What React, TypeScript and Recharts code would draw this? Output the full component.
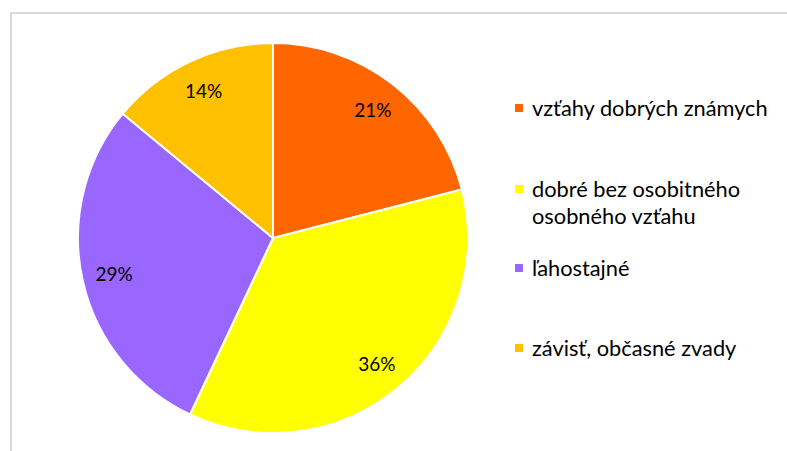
import React from "react";
import { PieChart, Pie, Cell } from "recharts";

const categories = [
  "vzťahy dobrých známych",
  "dobré bez osobitného osobného vzťahu",
  "ľahostajné",
  "závisť, občasné zvady",
];
const values = [21, 36, 29, 14];
const colors = ["#FF6600", "#FFFF00", "#9966FF", "#FFC000"];
const legendLines = [
  ["vzťahy dobrých známych"],
  ["dobré bez osobitného", "osobného vzťahu"],
  ["ľahostajné"],
  ["závisť, občasné zvady"],
];

const data = categories.map((name, i) => ({ name, value: values[i] }));

const FONT = "Lato, 'Open Sans', sans-serif";
const RAD = Math.PI / 180;

const renderLabel = (props: any) => {
  const { cx, cy, midAngle, outerRadius, value } = props;
  const r = outerRadius * 0.835;
  const x = cx + r * Math.cos(-midAngle * RAD);
  const y = cy + r * Math.sin(-midAngle * RAD);
  return (
    <text
      x={x}
      y={y}
      textAnchor="middle"
      dominantBaseline="central"
      fill="#000"
      fontSize={19}
      fontFamily={FONT}
    >
      {value}%
    </text>
  );
};

const legendTops = [94, 175, 254, 334];

export default function App() {
  return (
    <div style={{ position: "absolute", left: 0, top: 0, width: 787, height: 451, background: "#fff", overflow: "hidden" }}>
      <div
        style={{
          position: "absolute",
          left: 10,
          top: 12,
          width: 800,
          height: 460,
          border: "2px solid #d9d9d9",
        }}
      />
      <div style={{ position: "absolute", left: 0, top: 0 }}>
        <PieChart width={787} height={451} margin={{ top: 0, right: 0, bottom: 0, left: 0 }}>
          <Pie
            data={data}
            dataKey="value"
            nameKey="name"
            cx={273}
            cy={238}
            outerRadius={195}
            startAngle={90}
            endAngle={-270}
            stroke="#fff"
            strokeWidth={2}
            label={renderLabel}
            labelLine={false}
            isAnimationActive={false}
          >
            {data.map((d, i) => (
              <Cell key={d.name} fill={colors[i]} />
            ))}
          </Pie>
        </PieChart>
      </div>
      <div style={{ position: "absolute", left: 515, top: 0, width: 270, height: 451, fontFamily: FONT }}>
        {legendLines.map((lines, i) => (
          <div
            key={i}
            style={{ position: "absolute", left: 0, top: legendTops[i], display: "flex" }}
          >
            <div
              style={{
                width: 8,
                height: 8,
                background: colors[i],
                marginTop: 10,
                marginRight: 9,
              }}
            />
            <div style={{ fontSize: 21.8, lineHeight: "27px", color: "#000", whiteSpace: "nowrap" }}>
              {lines.map((l, j) => (
                <div key={j}>{l}</div>
              ))}
            </div>
          </div>
        ))}
      </div>
    </div>
  );
}
